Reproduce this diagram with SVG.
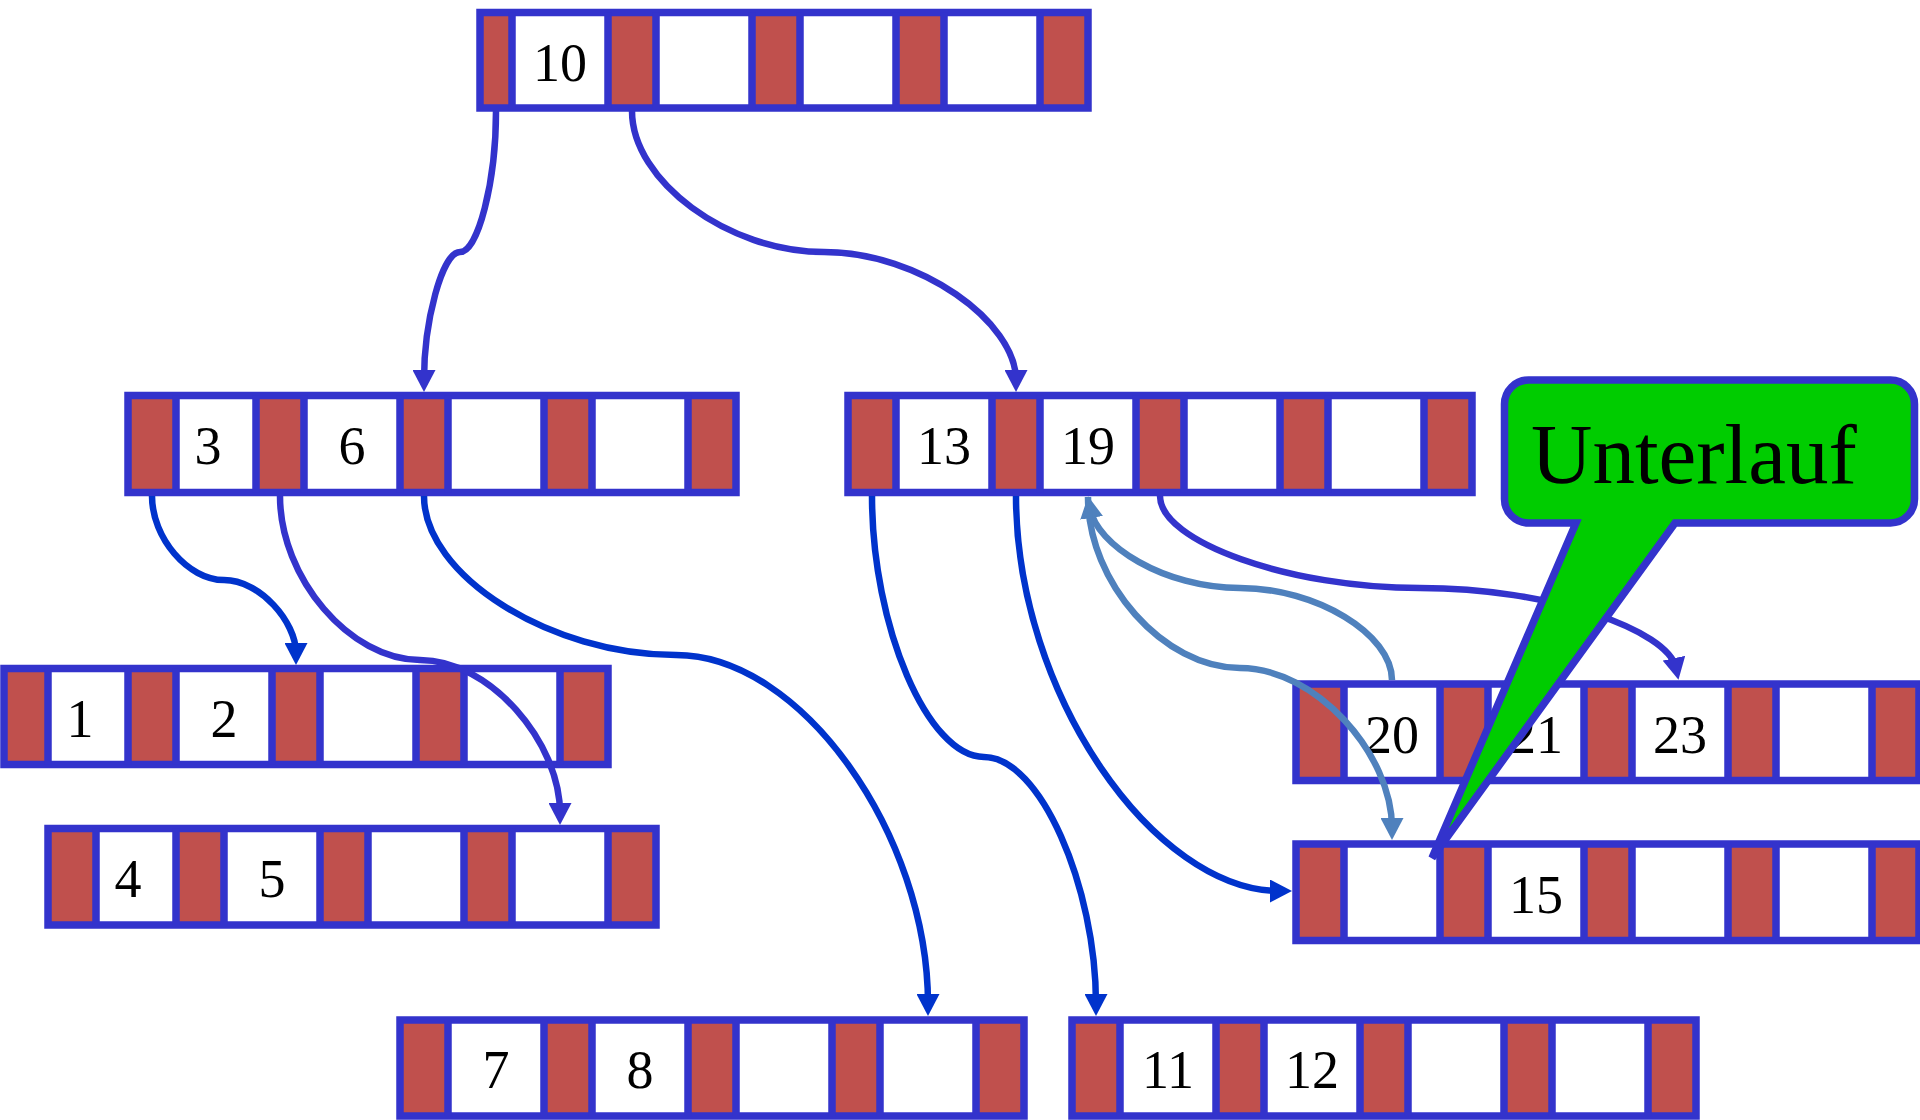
<svg xmlns="http://www.w3.org/2000/svg" width="1920" height="1120" viewBox="0 0 1920 1120">
<style>
.bd{fill:none;stroke:#3333CC;stroke-width:7.5}
.k{fill:#FFFFFF}
.p{fill:#C0504D}
.t{font-family:"Liberation Serif","Times New Roman",serif;font-size:54px;text-anchor:middle;fill:#000}
.c{fill:none;stroke-width:6.5}
.cd{stroke:#3333CC}
.cb{stroke:#0033CC}
.cs{stroke:#4F81BD}
</style>
<defs>
<marker id="aD" markerUnits="userSpaceOnUse" markerWidth="22" markerHeight="23" viewBox="0 0 22 23" refX="10" refY="11.5" orient="auto"><path d="M0,0 L22,11.5 L0,23 Z" fill="#3333CC"/></marker>
<marker id="aB" markerUnits="userSpaceOnUse" markerWidth="22" markerHeight="23" viewBox="0 0 22 23" refX="10" refY="11.5" orient="auto"><path d="M0,0 L22,11.5 L0,23 Z" fill="#0033CC"/></marker>
<marker id="aS" markerUnits="userSpaceOnUse" markerWidth="22" markerHeight="23" viewBox="0 0 22 23" refX="10" refY="11.5" orient="auto"><path d="M0,0 L22,11.5 L0,23 Z" fill="#4F81BD"/></marker>
</defs>
<rect width="1920" height="1120" fill="#FFFFFF"/>

<g id="node-root">
<rect class="k" x="480" y="12.5" width="608" height="95.5"/>
<rect class="p" x="480" y="12.5" width="32" height="95.5"/>
<rect class="p" x="608" y="12.5" width="48" height="95.5"/>
<rect class="p" x="752" y="12.5" width="48" height="95.5"/>
<rect class="p" x="896" y="12.5" width="48" height="95.5"/>
<rect class="p" x="1040" y="12.5" width="48" height="95.5"/>
<rect class="bd" x="480" y="12.5" width="608" height="95.5"/>
<path class="bd" d="M512 12.5V108M608 12.5V108M656 12.5V108M752 12.5V108M800 12.5V108M896 12.5V108M944 12.5V108M1040 12.5V108"/>
<text class="t" x="560" y="80.5">10</text>
</g>

<g id="node-3-6">
<rect class="k" x="128" y="395.5" width="608" height="97"/>
<rect class="p" x="128" y="395.5" width="48" height="97"/>
<rect class="p" x="256" y="395.5" width="48" height="97"/>
<rect class="p" x="400" y="395.5" width="48" height="97"/>
<rect class="p" x="544" y="395.5" width="48" height="97"/>
<rect class="p" x="688" y="395.5" width="48" height="97"/>
<rect class="bd" x="128" y="395.5" width="608" height="97"/>
<path class="bd" d="M176 395.5V492.5M256 395.5V492.5M304 395.5V492.5M400 395.5V492.5M448 395.5V492.5M544 395.5V492.5M592 395.5V492.5M688 395.5V492.5"/>
<text class="t" x="208" y="464">3</text>
<text class="t" x="352" y="464">6</text>
</g>

<g id="node-13-19">
<rect class="k" x="848" y="395.5" width="624" height="97"/>
<rect class="p" x="848" y="395.5" width="48" height="97"/>
<rect class="p" x="992" y="395.5" width="48" height="97"/>
<rect class="p" x="1136" y="395.5" width="48" height="97"/>
<rect class="p" x="1280" y="395.5" width="48" height="97"/>
<rect class="p" x="1424" y="395.5" width="48" height="97"/>
<rect class="bd" x="848" y="395.5" width="624" height="97"/>
<path class="bd" d="M896 395.5V492.5M992 395.5V492.5M1040 395.5V492.5M1136 395.5V492.5M1184 395.5V492.5M1280 395.5V492.5M1328 395.5V492.5M1424 395.5V492.5"/>
<text class="t" x="944" y="464">13</text>
<text class="t" x="1088" y="464">19</text>
</g>

<g id="node-1-2">
<rect class="k" x="4" y="668.5" width="604" height="96"/>
<rect class="p" x="4" y="668.5" width="44" height="96"/>
<rect class="p" x="128" y="668.5" width="48" height="96"/>
<rect class="p" x="272" y="668.5" width="48" height="96"/>
<rect class="p" x="416" y="668.5" width="48" height="96"/>
<rect class="p" x="560" y="668.5" width="48" height="96"/>
<rect class="bd" x="4" y="668.5" width="604" height="96"/>
<path class="bd" d="M48 668.5V764.5M128 668.5V764.5M176 668.5V764.5M272 668.5V764.5M320 668.5V764.5M416 668.5V764.5M464 668.5V764.5M560 668.5V764.5"/>
<text class="t" x="80" y="736.5">1</text>
<text class="t" x="224" y="736.5">2</text>
</g>

<g id="node-4-5">
<rect class="k" x="48" y="828.5" width="608" height="96.5"/>
<rect class="p" x="48" y="828.5" width="48" height="96.5"/>
<rect class="p" x="176" y="828.5" width="48" height="96.5"/>
<rect class="p" x="320" y="828.5" width="48" height="96.5"/>
<rect class="p" x="464" y="828.5" width="48" height="96.5"/>
<rect class="p" x="608" y="828.5" width="48" height="96.5"/>
<rect class="bd" x="48" y="828.5" width="608" height="96.5"/>
<path class="bd" d="M96 828.5V925M176 828.5V925M224 828.5V925M320 828.5V925M368 828.5V925M464 828.5V925M512 828.5V925M608 828.5V925"/>
<text class="t" x="128" y="897">4</text>
<text class="t" x="272" y="897">5</text>
</g>

<g id="node-7-8">
<rect class="k" x="400" y="1020" width="624" height="96"/>
<rect class="p" x="400" y="1020" width="48" height="96"/>
<rect class="p" x="544" y="1020" width="48" height="96"/>
<rect class="p" x="688" y="1020" width="48" height="96"/>
<rect class="p" x="832" y="1020" width="48" height="96"/>
<rect class="p" x="976" y="1020" width="48" height="96"/>
<rect class="bd" x="400" y="1020" width="624" height="96"/>
<path class="bd" d="M448 1020V1116M544 1020V1116M592 1020V1116M688 1020V1116M736 1020V1116M832 1020V1116M880 1020V1116M976 1020V1116"/>
<text class="t" x="496" y="1088">7</text>
<text class="t" x="640" y="1088">8</text>
</g>

<g id="node-11-12">
<rect class="k" x="1072" y="1020" width="624" height="96"/>
<rect class="p" x="1072" y="1020" width="48" height="96"/>
<rect class="p" x="1216" y="1020" width="48" height="96"/>
<rect class="p" x="1360" y="1020" width="48" height="96"/>
<rect class="p" x="1504" y="1020" width="48" height="96"/>
<rect class="p" x="1648" y="1020" width="48" height="96"/>
<rect class="bd" x="1072" y="1020" width="624" height="96"/>
<path class="bd" d="M1120 1020V1116M1216 1020V1116M1264 1020V1116M1360 1020V1116M1408 1020V1116M1504 1020V1116M1552 1020V1116M1648 1020V1116"/>
<text class="t" x="1168" y="1088">11</text>
<text class="t" x="1312" y="1088">12</text>
</g>

<g id="node-20-21-23">
<rect class="k" x="1296" y="684" width="623" height="96.5"/>
<rect class="p" x="1296" y="684" width="48" height="96.5"/>
<rect class="p" x="1440" y="684" width="48" height="96.5"/>
<rect class="p" x="1584" y="684" width="48" height="96.5"/>
<rect class="p" x="1728" y="684" width="48" height="96.5"/>
<rect class="p" x="1872" y="684" width="47" height="96.5"/>
<rect class="bd" x="1296" y="684" width="623" height="96.5"/>
<path class="bd" d="M1344 684V780.5M1440 684V780.5M1488 684V780.5M1584 684V780.5M1632 684V780.5M1728 684V780.5M1776 684V780.5M1872 684V780.5"/>
<text class="t" x="1392" y="752.5">20</text>
<text class="t" x="1536" y="752.5">21</text>
<text class="t" x="1680" y="752.5">23</text>
</g>

<g id="node-15">
<rect class="k" x="1296" y="844" width="623" height="96.5"/>
<rect class="p" x="1296" y="844" width="48" height="96.5"/>
<rect class="p" x="1440" y="844" width="48" height="96.5"/>
<rect class="p" x="1584" y="844" width="48" height="96.5"/>
<rect class="p" x="1728" y="844" width="48" height="96.5"/>
<rect class="p" x="1872" y="844" width="47" height="96.5"/>
<rect class="bd" x="1296" y="844" width="623" height="96.5"/>
<path class="bd" d="M1344 844V940.5M1440 844V940.5M1488 844V940.5M1584 844V940.5M1632 844V940.5M1728 844V940.5M1776 844V940.5M1872 844V940.5"/>
<text class="t" x="1536" y="912.5">15</text>
</g>

<g id="connectors">
<path class="c cd" marker-end="url(#aD)" d="M496 111C496 182 478 252 460 252C442 252 424 322 424 380"/>
<path class="c cd" marker-end="url(#aD)" d="M632 111C632 181 728 252 824 252C920 252 1016 322 1016 380"/>
<path class="c cb" marker-end="url(#aB)" d="M152 496C152 538 188 580 224 580C260 580 296 622 296 653"/>
<path class="c cd" marker-end="url(#aD)" d="M280 496C280 578 350 660 420 660C490 660 560 742 560 813"/>
<path class="c cb" marker-end="url(#aB)" d="M424 496C424 575.5 550 655 676 655C802 655 928 835.5 928 1004"/>
<path class="c cb" marker-end="url(#aB)" d="M872 496C872 626.5 928 757 984 757C1040 757 1096 886.5 1096 1004"/>
<path class="c cb" marker-end="url(#aB)" d="M1016 496C1016 693.5 1154 891 1280 891"/>
<path class="c cd" marker-end="url(#aD)" d="M1160 496C1160 542 1290 588 1420 588C1550 588 1668 630 1676 668"/>
<path class="c cs" marker-end="url(#aS)" d="M1392 680C1392 634 1316 588 1240 588C1164 588 1096 545 1090 508"/>
<path class="c cs" marker-end="url(#aS)" d="M1088 497C1088 583 1164 668 1240 668C1316 668 1392 754 1392 828"/>
</g>

<g id="callout-unterlauf">
<path d="M1528.5 380H1890.5A24 24 0 0 1 1914.5 404V499A24 24 0 0 1 1890.5 523H1675L1432 858L1576 523H1528.5A24 24 0 0 1 1504.5 499V404A24 24 0 0 1 1528.5 380Z" fill="#00CC00" stroke="#3333CC" stroke-width="7.5" stroke-linejoin="miter" stroke-miterlimit="4"/>
<text x="1531" y="483" font-family="Liberation Serif, Times New Roman, serif" font-size="85" fill="#000">Unterlauf</text>
</g>
</svg>
